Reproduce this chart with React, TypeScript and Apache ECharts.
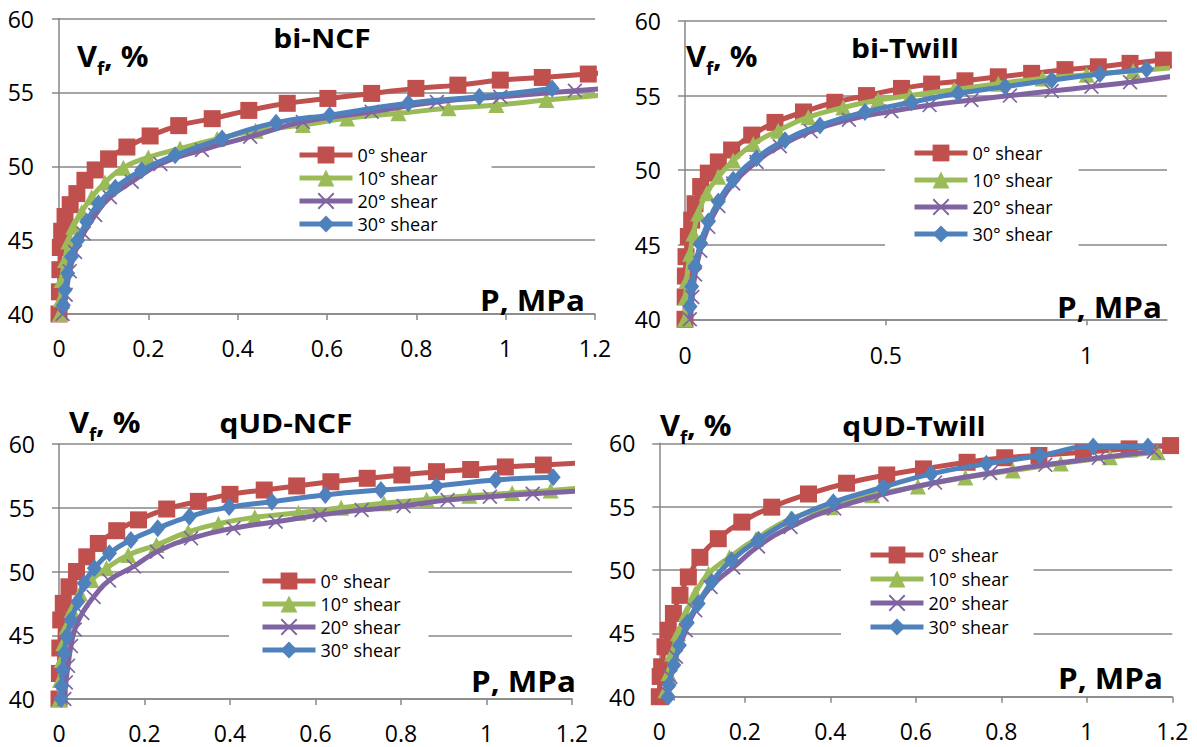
import React, { useEffect, useRef } from "react";
import * as echarts from "echarts";

// ---------- data ----------
const SHEAR_NAMES = ["0° shear", "10° shear", "20° shear", "30° shear"];
const SHEAR_COLORS = ["#C0504D", "#9BBB59", "#8064A2", "#4F81BD"];
const PANEL_TITLES = ["bi-NCF", "bi-Twill", "qUD-NCF", "qUD-Twill"];
const X_AXIS_TITLE = "P, MPa";
const Y_AXIS_TITLE_MAIN = "V";
const Y_AXIS_TITLE_SUB = "f";
const Y_AXIS_TITLE_TAIL = ", %";
const Y_MIN = 40;
const Y_MAX = 60;
const Y_STEP = 5;
const X_MIN = 0;
const X_MAX = 1.2;
const X_STEPS = [0.2, 0.5, 0.2, 0.2];

// bi-NCF  [P (MPa), Vf (%)]
const biNCF_0 = [[0,40],[0.001,41.5],[0.002,43],[0.003,44.5],[0.006,45.6],[0.0135,46.6],[0.025,47.4],[0.04,48.15],[0.058,49.05],[0.081,49.75],[0.111,50.5],[0.152,51.3],[0.204,52.05],[0.268,52.75],[0.343,53.22],[0.425,53.78],[0.511,54.26],[0.602,54.59],[0.7,54.93],[0.799,55.27],[0.893,55.49],[0.988,55.83],[1.082,56.01],[1.185,56.24],[1.28,56.45]];
const biNCF_10 = [[0.002,40],[0.004,41],[0.006,42.3],[0.0135,43.65],[0.021,44.9],[0.032,45.9],[0.051,46.9],[0.073,47.9],[0.103,48.9],[0.144,49.9],[0.2,50.6],[0.271,51.2],[0.354,51.85],[0.44,52.4],[0.546,52.79],[0.645,53.24],[0.76,53.58],[0.872,53.92],[0.979,54.14],[1.091,54.48],[1.3,55.05]];
const biNCF_20 = [[0.008,40],[0.015,41.3],[0.024,42.9],[0.036,44.2],[0.055,45.45],[0.081,46.7],[0.114,47.9],[0.163,48.95],[0.227,50.15],[0.32,51.1],[0.428,52.0],[0.546,53.0],[0.7,53.69],[0.846,54.35],[0.988,54.7],[1.155,55.11],[1.3,55.45]];
const biNCF_30 = [[0.0097,40.6],[0.0135,41.62],[0.0195,42.75],[0.028,43.87],[0.042,45.0],[0.062,46.24],[0.088,47.48],[0.126,48.55],[0.185,49.73],[0.26,50.74],[0.365,51.87],[0.486,52.95],[0.606,53.46],[0.782,54.26],[0.941,54.7],[1.104,55.27]];

// bi-Twill
const biTwill_0 = [[0,40],[0.0005,41.5],[0.001,42.9],[0.0025,44.2],[0.0083,45.55],[0.0166,46.65],[0.025,47.75],[0.039,48.9],[0.058,49.8],[0.083,50.55],[0.116,51.35],[0.166,52.35],[0.224,53.2],[0.295,53.9],[0.373,54.55],[0.452,55.0],[0.539,55.48],[0.614,55.77],[0.697,55.99],[0.78,56.26],[0.863,56.49],[0.946,56.74],[1.029,56.93],[1.108,57.16],[1.191,57.38],[1.27,57.55]];
const biTwill_10 = [[0,40],[0.002,41.5],[0.004,42.6],[0.0125,44.4],[0.021,45.75],[0.033,47.1],[0.054,48.45],[0.083,49.55],[0.12,50.65],[0.17,51.75],[0.232,52.65],[0.307,53.55],[0.394,54.2],[0.481,54.7],[0.56,55.0],[0.67,55.4],[0.78,55.8],[0.89,56.15],[1.0,56.4],[1.116,56.65],[1.23,56.9]];
const biTwill_20 = [[0.012,40],[0.018,41.5],[0.025,43.0],[0.038,44.6],[0.058,46.2],[0.083,47.6],[0.12,49.1],[0.178,50.55],[0.236,51.6],[0.313,52.6],[0.408,53.38],[0.514,53.95],[0.609,54.36],[0.713,54.7],[0.809,55.0],[0.913,55.3],[1.012,55.6],[1.108,55.9],[1.21,56.28]];
const biTwill_30 = [[0.0125,40.85],[0.0166,42.2],[0.025,43.55],[0.039,45.1],[0.058,46.55],[0.083,47.9],[0.12,49.35],[0.178,50.8],[0.249,52.0],[0.336,53.0],[0.448,53.9],[0.564,54.55],[0.68,55.15],[0.797,55.6],[0.913,56.04],[1.033,56.44],[1.149,56.76]];

// qUD-NCF
const qNCF_0 = [[0,40],[0.001,42],[0.002,44],[0.004,46.2],[0.01,47.5],[0.0234,48.8],[0.041,50.0],[0.065,51.15],[0.092,52.2],[0.135,53.2],[0.186,54.05],[0.252,54.9],[0.326,55.5],[0.4,56.05],[0.48,56.39],[0.556,56.71],[0.636,57.04],[0.721,57.31],[0.802,57.57],[0.883,57.83],[0.963,58.0],[1.044,58.2],[1.133,58.35],[1.21,58.5]];
const qNCF_10 = [[0.001,40],[0.0023,41.5],[0.0063,43.06],[0.01,44.37],[0.018,45.67],[0.03,46.98],[0.049,48.29],[0.076,49.33],[0.111,50.25],[0.162,51.29],[0.228,52.08],[0.302,53.1],[0.373,53.75],[0.458,54.25],[0.56,54.6],[0.66,55.0],[0.76,55.35],[0.86,55.65],[0.96,55.95],[1.06,56.15],[1.15,56.35],[1.24,56.6]];
const qNCF_20 = [[0.0125,40],[0.016,41.3],[0.021,42.6],[0.028,44.15],[0.037,45.45],[0.0545,46.75],[0.081,48.0],[0.117,49.3],[0.175,50.4],[0.229,51.55],[0.309,52.6],[0.408,53.39],[0.507,53.9],[0.61,54.43],[0.708,54.82],[0.806,55.14],[0.909,55.6],[1.008,55.87],[1.108,56.1],[1.21,56.3]];
const qNCF_30 = [[0.005,40],[0.006,41.0],[0.0087,42.27],[0.0124,43.58],[0.018,44.9],[0.028,46.2],[0.044,47.63],[0.059,49.07],[0.0826,50.25],[0.118,51.43],[0.168,52.47],[0.231,53.39],[0.305,54.3],[0.398,55.05],[0.498,55.47],[0.623,56.0],[0.753,56.39],[0.883,56.71],[1.021,57.18],[1.156,57.39]];

// qUD-Twill
const qTwill_0 = [[0,40],[0.002,41.6],[0.0055,42.36],[0.0133,43.94],[0.021,45.25],[0.033,46.57],[0.0484,48.0],[0.068,49.45],[0.095,51.0],[0.138,52.47],[0.193,53.78],[0.263,54.96],[0.349,56.0],[0.438,56.85],[0.532,57.5],[0.618,57.98],[0.72,58.5],[0.808,58.86],[0.888,59.04],[0.992,59.3],[1.099,59.56],[1.196,59.82]];
const qTwill_10 = [[0.0145,40.5],[0.0215,41.85],[0.03,43.4],[0.044,45.0],[0.062,46.55],[0.084,48.15],[0.115,49.7],[0.164,51.0],[0.226,52.45],[0.307,54.05],[0.4,54.95],[0.498,55.9],[0.605,56.6],[0.716,57.3],[0.827,57.85],[0.939,58.4],[1.054,58.9],[1.166,59.3]];
const qTwill_20 = [[0.02,40.27],[0.026,41.57],[0.039,43.15],[0.062,45.25],[0.084,46.83],[0.12,48.66],[0.173,50.2],[0.231,51.85],[0.307,53.4],[0.409,54.85],[0.52,55.95],[0.645,56.9],[0.774,57.65],[0.903,58.3],[1.028,58.85],[1.157,59.35]];
const qTwill_30 = [[0.021,40.0],[0.023,40.92],[0.034,42.5],[0.047,44.07],[0.0655,45.83],[0.091,47.35],[0.1225,49.06],[0.169,50.76],[0.232,52.39],[0.31,53.96],[0.407,55.35],[0.524,56.54],[0.636,57.59],[0.765,58.38],[0.89,59.03],[1.015,59.75],[1.143,59.75]];

const PANEL_DATA = [
  [biNCF_0, biNCF_10, biNCF_20, biNCF_30],
  [biTwill_0, biTwill_10, biTwill_20, biTwill_30],
  [qNCF_0, qNCF_10, qNCF_20, qNCF_30],
  [qTwill_0, qTwill_10, qTwill_20, qTwill_30],
];

// ---------- layout / style ----------
const FONT = '"Open Sans", "DejaVu Sans", sans-serif';
const GRID_COLOR = "#878787";
const X_SYMBOL = "path://M0,0.8L0.8,0L5,4.2L9.2,0L10,0.8L5.8,5L10,9.2L9.2,10L5,5.8L0.8,10L0,9.2L4.2,5Z";
const SYMBOLS = ["rect", "triangle", X_SYMBOL, "diamond"];
const SYMBOL_SIZES: any[] = [17, 16, 15, [15, 18]];

const GRIDS = [
  { left: 59, top: 18.5, width: 536, height: 295.5 },
  { left: 685, top: 21, width: 482, height: 298.3 },
  { left: 59, top: 444, width: 513, height: 255 },
  { left: 659.3, top: 443.3, width: 513, height: 253.4 },
];
const X_LABEL_MARGIN = [22, 24, 22, 23];
const Y_LABEL_MARGIN = [25, 24, 24, 24];

const LEGENDS = [
  { left: 241, top: 141, padding: [5, 54, 3, 56], itemGap: 5 },
  { left: 885, top: 139, padding: [5, 26, 5, 27], itemGap: 9 },
  { left: 229, top: 566, padding: [6, 28, 4, 31], itemGap: 5 },
  { left: 841, top: 541, padding: [5, 25, 5, 27], itemGap: 6 },
];

const TITLE_POS = [[322, 38], [905, 48], [286, 423], [914, 426]];
const VF_POS = [[77, 57], [686, 57], [69, 423], [660, 426]];
const P_POS = [[585, 300], [1162, 307], [576, 681], [1163, 678]];

function txt(x: number, y: number, text: string, size: number, align: string, scaleX = 1.12) {
  return {
    type: "text",
    x,
    y,
    scaleX,
    silent: true,
    z: 10,
    style: {
      text,
      x: 0,
      y: 0,
      font: `bold ${size}px ${FONT}`,
      fill: "#000",
      align,
      textAlign: align,
      verticalAlign: "middle",
      textVerticalAlign: "middle",
    },
  };
}

export default function App() {
  const ref = useRef<HTMLDivElement>(null);

  useEffect(() => {
    document.body.style.margin = "0";
    if (!ref.current) return;
    const chart = echarts.init(ref.current, undefined, { renderer: "svg" });

    const series: any[] = [];
    PANEL_DATA.forEach((panel, i) => {
      panel.forEach((data, j) => {
        series.push({
          type: "line",
          name: SHEAR_NAMES[j],
          xAxisIndex: i,
          yAxisIndex: i,
          data,
          smooth: 0.5,
          clip: true,
          symbol: SYMBOLS[j],
          symbolSize: SYMBOL_SIZES[j],
          showAllSymbol: true,
          lineStyle: { width: 5, color: SHEAR_COLORS[j] },
          itemStyle: { color: SHEAR_COLORS[j], borderWidth: 0 },
          z: 2 + j,
          emphasis: { disabled: true },
        });
      });
    });

    const graphic: any[] = [];
    for (let i = 0; i < 4; i++) {
      graphic.push(txt(TITLE_POS[i][0], TITLE_POS[i][1], PANEL_TITLES[i], 26, "center", 1.15));
      const [vx, vy] = VF_POS[i];
      graphic.push(txt(vx, vy, Y_AXIS_TITLE_MAIN, 28, "left", 1.1));
      graphic.push(txt(vx + 20, vy + 11, Y_AXIS_TITLE_SUB, 17, "left", 1.1));
      graphic.push(txt(vx + 27, vy, Y_AXIS_TITLE_TAIL, 28, "left", 1.1));
      graphic.push(txt(P_POS[i][0], P_POS[i][1], X_AXIS_TITLE, 28, "right", 1.12));
    }

    const axisLineStyle = { color: GRID_COLOR, width: 1.5 };

    chart.setOption({
      animation: false,
      textStyle: { fontFamily: FONT },
      grid: GRIDS.map((g) => ({ ...g, containLabel: false, outerBoundsMode: "none" })),
      xAxis: GRIDS.map((_, i) => ({
        type: "value",
        gridIndex: i,
        min: X_MIN,
        max: X_MAX,
        interval: X_STEPS[i],
        axisLine: { show: true, onZero: false, lineStyle: axisLineStyle },
        axisTick: { show: true, length: 6, lineStyle: axisLineStyle },
        axisLabel: {
          fontSize: 23,
          color: "#000",
          fontFamily: FONT,
          margin: X_LABEL_MARGIN[i],
          showMaxLabel: i !== 1,
          showMinLabel: true,
        },
        splitLine: { show: false },
      })),
      yAxis: GRIDS.map((_, i) => ({
        type: "value",
        gridIndex: i,
        min: Y_MIN,
        max: Y_MAX,
        interval: Y_STEP,
        axisLine: { show: true, lineStyle: axisLineStyle },
        axisTick: { show: true, length: 7, lineStyle: axisLineStyle },
        axisLabel: { fontSize: 23, color: "#000", fontFamily: FONT, margin: Y_LABEL_MARGIN[i] },
        splitLine: { show: true, lineStyle: axisLineStyle },
      })),
      legend: LEGENDS.map((l) => ({
        orient: "vertical",
        left: l.left,
        top: l.top,
        padding: l.padding,
        itemGap: l.itemGap,
        itemWidth: 53,
        itemHeight: 21,
        backgroundColor: "#ffffff",
        selectedMode: false,
        data: SHEAR_NAMES,
        lineStyle: { width: 5 },
        textStyle: { fontSize: 18, color: "#000", fontFamily: FONT, padding: [0, 0, 0, 0] },
      })),
      graphic,
      series,
    });

    return () => chart.dispose();
  }, []);

  return <div ref={ref} style={{ width: 1197, height: 747 }} />;
}
